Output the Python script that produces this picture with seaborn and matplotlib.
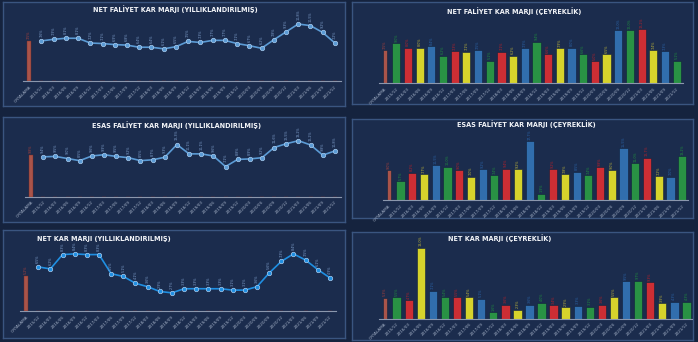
import numpy as np
import pandas as pd
import matplotlib
matplotlib.use("Agg")
import matplotlib.pyplot as plt
import seaborn as sns

sns.set_theme(style="white")
plt.rcParams['font.family'] = ['DejaVu Sans']

# ---------------- data ----------------
dates = ["2015/12", "2016/03", "2016/06", "2016/09", "2016/12", "2017/03", "2017/06",
         "2017/09", "2017/12", "2018/03", "2018/06", "2018/09", "2018/12", "2019/03",
         "2019/06", "2019/09", "2019/12", "2020/03", "2020/06", "2020/09", "2020/12",
         "2021/03", "2021/06", "2021/09", "2021/12"]
categories = ["ORTALAMA"] + dates

net_faaliyet_yillik_avg = 7.5
net_faaliyet_yillik = [7.6, 7.9, 8.1, 8.1, 7.2, 7.1, 6.9, 6.8, 6.4, 6.4, 6.1, 6.5, 7.5,
                       7.3, 7.7, 7.7, 7.1, 6.7, 6.2, 7.8, 9.3, 10.8, 10.5, 9.2, 7.2]

esas_faaliyet_yillik_avg = 9.8
esas_faaliyet_yillik = [9.4, 9.5, 9.0, 8.5, 9.6, 9.9, 9.5, 9.2, 8.5, 8.7, 9.3, 12.3, 10.1,
                        10.1, 9.6, 7.1, 8.8, 8.9, 9.2, 11.6, 12.5, 13.2, 12.2, 9.8, 10.8]

net_kar_yillik_avg = 5.2
net_kar_yillik = [6.5, 6.2, 8.3, 8.4, 8.3, 8.3, 5.5, 5.1, 4.1, 3.6, 2.9, 2.7, 3.3, 3.3,
                  3.3, 3.3, 3.1, 3.1, 3.6, 5.6, 7.3, 8.4, 7.5, 6.1, 4.9]

net_faaliyet_ceyrek_avg = 7.5
net_faaliyet_ceyrek = [9.0, 8.0, 8.0, 8.4, 6.2, 7.3, 7.1, 7.5, 5.1, 7.1, 6.2, 7.9, 9.4,
                       6.6, 7.9, 8.0, 6.6, 5.0, 6.5, 12.0, 12.0, 12.2, 7.4, 7.3, 5.1]

esas_faaliyet_ceyrek_avg = 9.0
esas_faaliyet_ceyrek = [5.7, 8.2, 7.7, 10.5, 10.0, 9.0, 7.0, 9.2, 7.4, 9.4, 9.2, 17.7, 1.9,
                        9.2, 7.8, 8.5, 7.4, 9.8, 9.0, 15.5, 11.0, 12.7, 7.2, 7.0, 13.2]

net_kar_ceyrek_avg = 5.3
net_kar_ceyrek = [5.5, 4.7, 18.0, 7.1, 5.4, 5.5, 5.4, 5.1, 1.6, 3.6, 2.3, 3.6, 4.0, 3.4,
                  2.9, 3.3, 3.1, 3.6, 5.5, 9.5, 9.7, 9.3, 3.9, 4.3, 4.3]

titles = {
    "tl": "NET FALİYET KAR MARJI (YILLIKLANDIRILMIŞ)",
    "tr": "NET FALİYET KAR MARJI (ÇEYREKLİK)",
    "ml": "ESAS FALİYET KAR MARJI (YILLIKLANDIRILMIŞ)",
    "mr": "ESAS FALİYET KAR MARJI (ÇEYREKLİK)",
    "bl": "NET KAR MARJI (YILLIKLANDIRILMIŞ)",
    "br": "NET KAR MARJI (ÇEYREKLİK)",
}

# ---------------- style ----------------
W, H = 698, 342
FIG_BG = "#15233e"
PANEL_BG = "#1b2c4d"
PANEL_EDGE = "#3a5580"
AVG_COLOR = "#b9473a"
AVG_LABEL = "#a8403c"
Q_COLORS = {"12": "#17a43b", "03": "#e8131b", "06": "#f2ee10", "09": "#1c6ec2"}
Q_LABELS = {"12": "#1f8e3e", "03": "#b8202a", "06": "#bdb43a", "09": "#2a63a8"}
TICK_COLOR = "#a3b0c6"
LINE_LABEL = "#7f9fcc"
LABEL_FS = 2.4

fig = plt.figure(figsize=(W / 100, H / 100), dpi=100)
fig.patch.set_facecolor(FIG_BG)


def frac_rect(x0, y0, x1, y1):
    return [x0 / W, 1 - y1 / H, (x1 - x0) / W, (y1 - y0) / H]


def panel(x0, y0, x1, y1):
    bg = fig.add_axes(frac_rect(x0, y0, x1, y1), zorder=0)
    bg.set_facecolor(PANEL_BG)
    bg.set_xticks([]); bg.set_yticks([])
    for s in bg.spines.values():
        s.set_color(PANEL_EDGE)
        s.set_linewidth(1.0)
    return bg


def style_axes(ax, ylim, xlim=(-0.5, 25.5)):
    ax.set_facecolor("none")
    ax.set_xlim(*xlim)
    ax.set_ylim(*ylim)
    ax.set_yticks([])
    ax.set_xlabel(""); ax.set_ylabel("")
    for k, s in ax.spines.items():
        s.set_visible(k == "bottom")
    ax.spines["bottom"].set_color("#8b97ad")
    ax.spines["bottom"].set_linewidth(0.8)
    ax.set_xticks(range(len(categories)))
    ax.set_xticklabels(categories, rotation=45, ha="right", rotation_mode="anchor",
                       fontsize=3.0, color=TICK_COLOR)
    ax.tick_params(axis="x", length=1.5, width=0.4, color="#8b97ad", pad=1)
    if ax.get_legend() is not None:
        ax.get_legend().remove()


def fmt(v):
    return f"{v:.1f}%".replace(".", ",")


def line_panel(rect, avg, vals, ylim, title, title_xy, title_ha, line_color):
    ax = fig.add_axes(frac_rect(*rect), zorder=2)
    bar_vals = [avg] + [0.0] * len(vals)
    sns.barplot(x=categories, y=bar_vals, order=categories, color=AVG_COLOR,
                width=0.33, linewidth=0.3, edgecolor="#7a2a22", ax=ax)
    df = pd.DataFrame({"pos": np.arange(1, len(vals) + 1), "val": vals})
    sns.lineplot(data=df, x="pos", y="val", color=line_color, linewidth=1.2,
                 marker="o", markersize=3.2, markeredgecolor="#a9cdf0",
                 markeredgewidth=0.5, ax=ax, sort=False)
    style_axes(ax, ylim)
    span = ylim[1] - ylim[0]
    ax.text(0, avg + span * 0.03, fmt(avg), rotation=90, ha="center", va="bottom",
            fontsize=LABEL_FS, color=AVG_LABEL)
    for i, v in enumerate(vals, start=1):
        ax.text(i, v + span * 0.06, fmt(v), rotation=90, ha="center", va="bottom",
                fontsize=LABEL_FS, color=LINE_LABEL)
    fig.text(title_xy[0] / W, 1 - title_xy[1] / H, title, ha=title_ha, va="center",
             fontsize=4.7, fontweight="bold", color="#f2f4f8", zorder=5)
    return ax


def bar_panel(rect, avg, vals, ylim, title, title_xy):
    ax = fig.add_axes(frac_rect(*rect), zorder=2)
    quarters = [d.split("/")[1] for d in dates]
    df = pd.DataFrame({"cat": categories, "val": [avg] + list(vals),
                       "grp": ["AVG"] + quarters})
    palette = {"AVG": AVG_COLOR, **Q_COLORS}
    sns.barplot(data=df, x="cat", y="val", hue="grp", palette=palette, order=categories,
                dodge=False, width=0.7, linewidth=0.4, edgecolor="#10203a",
                legend=False, ax=ax)
    # narrow the ORTALAMA bar
    for p in ax.patches:
        cx = p.get_x() + p.get_width() / 2
        if abs(cx) < 0.01 and p.get_height() > 0:
            p.set_width(0.35)
            p.set_x(-0.175)
    style_axes(ax, ylim)
    span = ylim[1] - ylim[0]
    labcols = [AVG_LABEL] + [Q_LABELS[q] for q in quarters]
    for i, (v, c) in enumerate(zip(df["val"], labcols)):
        ax.text(i, v + span * 0.02, fmt(v), rotation=90, ha="center", va="bottom",
                fontsize=LABEL_FS, color=c)
    fig.text(title_xy[0] / W, 1 - title_xy[1] / H, title, ha="center", va="center",
             fontsize=4.7, fontweight="bold", color="#f2f4f8", zorder=5)
    return ax


# panels (pixel rectangles)
panel(3, 2, 345, 106)
panel(352, 2, 693, 104)
panel(3, 117, 345, 222)
panel(352, 119, 693, 218)
panel(3, 230, 345, 338)
panel(352, 232, 693, 340)

line_panel((23, 14, 341, 81), net_faaliyet_yillik_avg, net_faaliyet_yillik, (0, 12.7),
           titles["tl"], (175, 9), "center", "#5b9bd5")
line_panel((25, 128, 341, 196.7), esas_faaliyet_yillik_avg, esas_faaliyet_yillik, (0, 16.2),
           titles["ml"], (177, 125), "center", "#5b9bd5")
line_panel((20, 245, 336, 311.3), net_kar_yillik_avg, net_kar_yillik, (0, 9.7),
           titles["bl"], (37, 239.5), "left", "#1f8fe2")

bar_panel((378.8, 18, 682.5, 83.3), net_faaliyet_ceyrek_avg, net_faaliyet_ceyrek, (0, 14.7),
          titles["tr"], (514, 11.5))
bar_panel((382.8, 130, 688.2, 200), esas_faaliyet_ceyrek_avg, esas_faaliyet_ceyrek, (0, 21),
          titles["mr"], (526, 124.5))
bar_panel((378.6, 239.7, 692.4, 318.7), net_kar_ceyrek_avg, net_kar_ceyrek, (0, 20.1),
          titles["br"], (500, 238))

fig.savefig("out.png", dpi=100, facecolor=FIG_BG)
